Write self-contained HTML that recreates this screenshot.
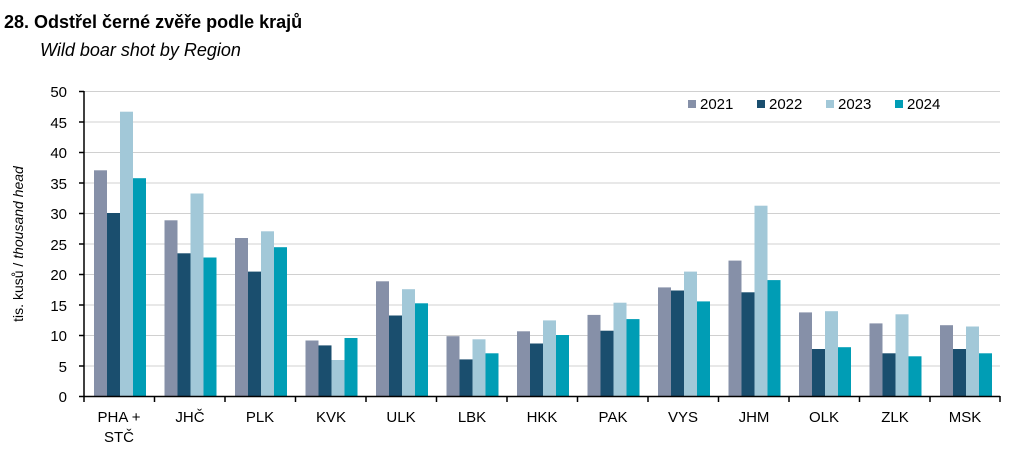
<!DOCTYPE html>
<html><head><meta charset="utf-8"><style>
body{margin:0;background:#fff;}
svg text{font-family:"Liberation Sans",Arial,sans-serif;fill:#000;}
</style></head><body>
<svg width="1010" height="450" xmlns="http://www.w3.org/2000/svg">
<text x="4" y="28" font-size="18" font-weight="bold">28. Odstřel černé zvěře podle krajů</text>
<text x="40" y="56" font-size="18" font-style="italic">Wild boar shot by Region</text>
<g stroke="#d0d0d0" stroke-width="1">
<line x1="84" x2="1000" y1="91.5" y2="91.5"/><line x1="84" x2="1000" y1="122" y2="122"/>
<line x1="84" x2="1000" y1="152.5" y2="152.5"/><line x1="84" x2="1000" y1="183" y2="183"/>
<line x1="84" x2="1000" y1="213.5" y2="213.5"/><line x1="84" x2="1000" y1="244" y2="244"/>
<line x1="84" x2="1000" y1="274.5" y2="274.5"/><line x1="84" x2="1000" y1="305" y2="305"/>
<line x1="84" x2="1000" y1="335.5" y2="335.5"/><line x1="84" x2="1000" y1="366" y2="366"/>
</g>
<g font-size="15" text-anchor="end">
<text x="67" y="97">50</text><text x="67" y="128">45</text><text x="67" y="158">40</text>
<text x="67" y="189">35</text><text x="67" y="219">30</text><text x="67" y="250">25</text>
<text x="67" y="280">20</text><text x="67" y="311">15</text><text x="67" y="341">10</text>
<text x="67" y="372">5</text><text x="67" y="402">0</text>
</g>
<text transform="translate(23,244) rotate(-90)" font-size="14" text-anchor="middle">tis. kusů / <tspan font-style="italic">thousand head</tspan></text>
<g>
<rect x="94" y="170.3" width="13" height="225.7" fill="#8690a8"/><rect x="107" y="213" width="13" height="183" fill="#1a4e6e"/><rect x="120" y="111.7" width="13" height="284.3" fill="#a2c8d8"/><rect x="133" y="178.2" width="13" height="217.8" fill="#009db5"/>
<rect x="164.5" y="220.3" width="13" height="175.7" fill="#8690a8"/><rect x="177.5" y="253.3" width="13" height="142.7" fill="#1a4e6e"/><rect x="190.5" y="193.5" width="13" height="202.5" fill="#a2c8d8"/><rect x="203.5" y="257.5" width="13" height="138.5" fill="#009db5"/>
<rect x="235" y="238" width="13" height="158" fill="#8690a8"/><rect x="248" y="271.6" width="13" height="124.4" fill="#1a4e6e"/><rect x="261" y="231.3" width="13" height="164.7" fill="#a2c8d8"/><rect x="274" y="247.2" width="13" height="148.8" fill="#009db5"/>
<rect x="305.5" y="340.5" width="13" height="55.5" fill="#8690a8"/><rect x="318.5" y="345.4" width="13" height="50.6" fill="#1a4e6e"/><rect x="331.5" y="360" width="13" height="36" fill="#a2c8d8"/><rect x="344.5" y="338" width="13" height="58" fill="#009db5"/>
<rect x="376" y="281.3" width="13" height="114.7" fill="#8690a8"/><rect x="389" y="315.5" width="13" height="80.5" fill="#1a4e6e"/><rect x="402" y="289.2" width="13" height="106.8" fill="#a2c8d8"/><rect x="415" y="303.3" width="13" height="92.7" fill="#009db5"/>
<rect x="446.5" y="336.2" width="13" height="59.8" fill="#8690a8"/><rect x="459.5" y="359.4" width="13" height="36.6" fill="#1a4e6e"/><rect x="472.5" y="339.3" width="13" height="56.7" fill="#a2c8d8"/><rect x="485.5" y="353.3" width="13" height="42.7" fill="#009db5"/>
<rect x="517" y="331.3" width="13" height="64.7" fill="#8690a8"/><rect x="530" y="343.5" width="13" height="52.5" fill="#1a4e6e"/><rect x="543" y="320.4" width="13" height="75.6" fill="#a2c8d8"/><rect x="556" y="335" width="13" height="61" fill="#009db5"/>
<rect x="587.5" y="314.9" width="13" height="81.1" fill="#8690a8"/><rect x="600.5" y="330.7" width="13" height="65.3" fill="#1a4e6e"/><rect x="613.5" y="302.7" width="13" height="93.3" fill="#a2c8d8"/><rect x="626.5" y="319.1" width="13" height="76.9" fill="#009db5"/>
<rect x="658" y="287.4" width="13" height="108.6" fill="#8690a8"/><rect x="671" y="290.5" width="13" height="105.5" fill="#1a4e6e"/><rect x="684" y="271.6" width="13" height="124.4" fill="#a2c8d8"/><rect x="697" y="301.4" width="13" height="94.6" fill="#009db5"/>
<rect x="728.5" y="260.6" width="13" height="135.4" fill="#8690a8"/><rect x="741.5" y="292.3" width="13" height="103.7" fill="#1a4e6e"/><rect x="754.5" y="205.7" width="13" height="190.3" fill="#a2c8d8"/><rect x="767.5" y="280.1" width="13" height="115.9" fill="#009db5"/>
<rect x="799" y="312.4" width="13" height="83.6" fill="#8690a8"/><rect x="812" y="349" width="13" height="47" fill="#1a4e6e"/><rect x="825" y="311.2" width="13" height="84.8" fill="#a2c8d8"/><rect x="838" y="347.2" width="13" height="48.8" fill="#009db5"/>
<rect x="869.5" y="323.4" width="13" height="72.6" fill="#8690a8"/><rect x="882.5" y="353.3" width="13" height="42.7" fill="#1a4e6e"/><rect x="895.5" y="314.3" width="13" height="81.7" fill="#a2c8d8"/><rect x="908.5" y="356.3" width="13" height="39.7" fill="#009db5"/>
<rect x="940" y="325.2" width="13" height="70.8" fill="#8690a8"/><rect x="953" y="349" width="13" height="47" fill="#1a4e6e"/><rect x="966" y="326.5" width="13" height="69.5" fill="#a2c8d8"/><rect x="979" y="353.3" width="13" height="42.7" fill="#009db5"/>
</g>
<g stroke="#000" stroke-width="1.5">
<line x1="84" x2="84" y1="91" y2="397"/>
<line x1="79" x2="84" y1="91.5" y2="91.5"/><line x1="79" x2="84" y1="122" y2="122"/><line x1="79" x2="84" y1="152.5" y2="152.5"/><line x1="79" x2="84" y1="183" y2="183"/><line x1="79" x2="84" y1="213.5" y2="213.5"/><line x1="79" x2="84" y1="244" y2="244"/><line x1="79" x2="84" y1="274.5" y2="274.5"/><line x1="79" x2="84" y1="305" y2="305"/><line x1="79" x2="84" y1="335.5" y2="335.5"/><line x1="79" x2="84" y1="366" y2="366"/>
<line x1="79" x2="1000" y1="396.5" y2="396.5"/>
<line x1="84" x2="84" y1="396" y2="402"/><line x1="154.5" x2="154.5" y1="396" y2="402"/><line x1="225" x2="225" y1="396" y2="402"/><line x1="295.5" x2="295.5" y1="396" y2="402"/><line x1="366" x2="366" y1="396" y2="402"/><line x1="436.5" x2="436.5" y1="396" y2="402"/><line x1="507" x2="507" y1="396" y2="402"/><line x1="577.5" x2="577.5" y1="396" y2="402"/><line x1="648" x2="648" y1="396" y2="402"/><line x1="718.5" x2="718.5" y1="396" y2="402"/><line x1="789" x2="789" y1="396" y2="402"/><line x1="859.5" x2="859.5" y1="396" y2="402"/><line x1="930" x2="930" y1="396" y2="402"/><line x1="1000" x2="1000" y1="396" y2="402"/>
</g>
<g font-size="15" text-anchor="middle">
<text x="119" y="422">PHA +</text><text x="119" y="442">STČ</text>
<text x="190" y="422">JHČ</text><text x="260" y="422">PLK</text><text x="331" y="422">KVK</text>
<text x="401" y="422">ULK</text><text x="472" y="422">LBK</text><text x="542" y="422">HKK</text>
<text x="613" y="422">PAK</text><text x="683" y="422">VYS</text><text x="754" y="422">JHM</text>
<text x="824" y="422">OLK</text><text x="895" y="422">ZLK</text><text x="965" y="422">MSK</text>
</g>
<g font-size="15">
<rect x="688" y="100" width="8" height="8" fill="#8690a8"/><text x="700" y="109">2021</text>
<rect x="757" y="100" width="8" height="8" fill="#1a4e6e"/><text x="769" y="109">2022</text>
<rect x="826" y="100" width="8" height="8" fill="#a2c8d8"/><text x="838" y="109">2023</text>
<rect x="895" y="100" width="8" height="8" fill="#009db5"/><text x="907" y="109">2024</text>
</g>
</svg>
</body></html>
